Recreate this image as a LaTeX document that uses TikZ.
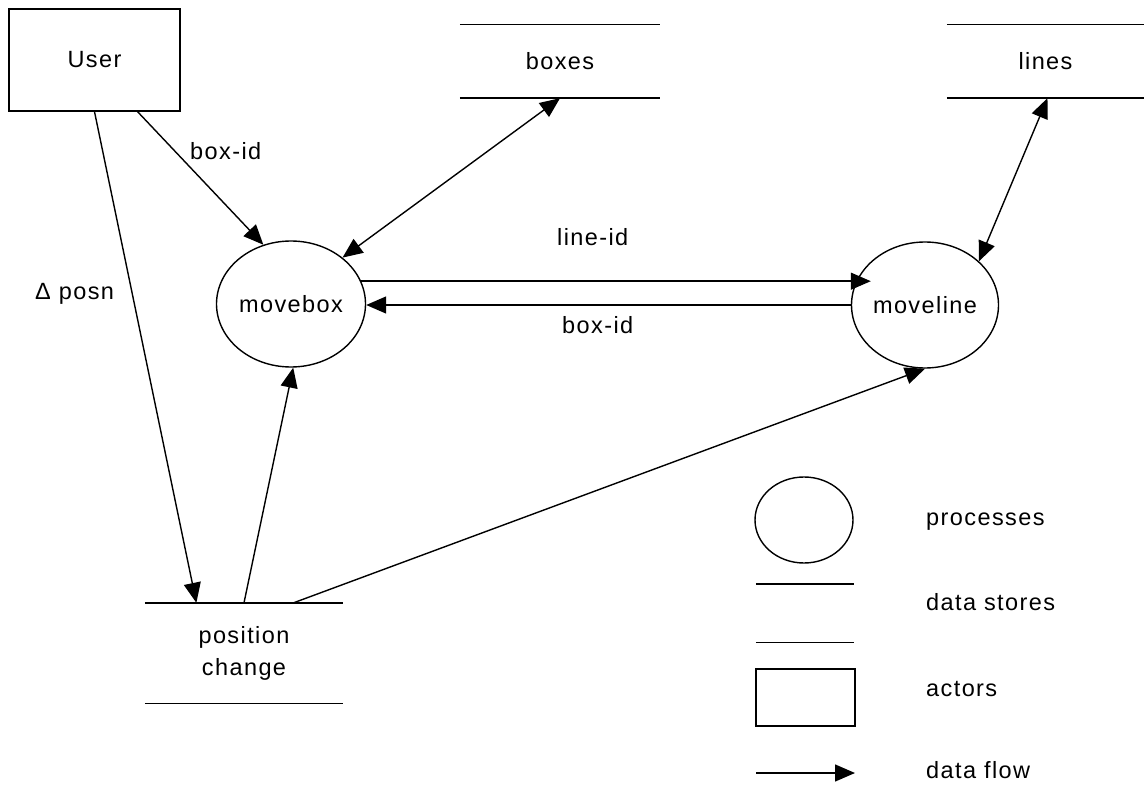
\documentclass[tikz,border=0pt]{standalone}
\usepackage{fontspec}
\setmainfont{Liberation Sans}[LetterSpace=6]
\usetikzlibrary{arrows.meta,shapes.geometric,calc}
\begin{document}
\begin{tikzpicture}[x=1pt,y=-1pt,
  ln/.style={line width=1.4pt},
  every node/.style={font=\fontsize{23.5}{32}\selectfont, inner sep=0pt},
  actor/.style={draw, ln, rectangle},
  proc/.style={draw, ln, ellipse},
  store/.style={rectangle, align=center},
  lbl/.style={anchor=base west},
  tip/.style={Triangle[length=20pt,width=17pt]},
  flow/.style={ln, -{Triangle[length=20pt,width=17pt]}},
  both/.style={ln, {Triangle[length=20pt,width=17pt]}-{Triangle[length=20pt,width=17pt]}}
]
\useasboundingbox (0,0) rectangle (1144,786);

% actors, processes and data stores
\node[actor, minimum width=171pt, minimum height=102pt] (user) at (94.5,60) {User};
\node[proc, minimum width=149pt, minimum height=126pt] (movebox) at (291,304) {movebox};
\node[proc, minimum width=147pt, minimum height=126pt] (moveline) at (925,305) {moveline};
\node[store, minimum width=200pt, minimum height=73pt] (boxes) at (560,61.5) {boxes};
\node[store, minimum width=197pt, minimum height=73pt] (lines) at (1045.5,61.5) {lines};
\node[store, minimum width=198pt, minimum height=100pt] (pos) at (244,653) {position\\change};

% data store bars
\foreach \s in {boxes,lines,pos}{
  \draw[ln] (\s.north west) -- (\s.north east);
  \draw[ln] (\s.south west) -- (\s.south east);
}

% data flows
\draw[flow] ($(user.south west)!0.75!(user.south east)$) -- (movebox.115);
\draw[flow] (user.south) -- ($(pos.north west)!0.26!(pos.north east)$);
\draw[both] (boxes.south) -- (movebox.42);
\draw[both] ($(lines.south west)!0.51!(lines.south east)$) -- (moveline.39);
\draw[flow, shorten >=-20pt] (movebox.18) -- (movebox.18 -| moveline.west);
\draw[flow] (moveline.west) -- (moveline.west -| movebox.east);
\draw[flow] (pos.north) -- (movebox.272);
\draw[flow] ($(pos.north west)!0.75!(pos.north east)$) -- (moveline.south);

% flow labels
\node[lbl] (lboxid) at (190,160) {box-id};
\node[lbl] (ldelta) at (35,300) {Δ posn};
\node[lbl] (llineid) at (557,246) {line-id};
\node[lbl] (lboxid2) at (562,334) {box-id};

% legend
\node[proc, minimum width=98pt, minimum height=86pt] (kproc) at (804,520) {};
\node[store, minimum width=98pt, minimum height=58pt] (kstore) at (805,613) {};
\draw[ln] (kstore.north west) -- (kstore.north east);
\draw[ln] (kstore.south west) -- (kstore.south east);
\node[actor, minimum width=99pt, minimum height=57pt] (kactor) at (805.5,697.5) {};
\coordinate (kfa) at (756,773);
\coordinate (kfb) at (855,773);
\draw[flow] (kfa) -- (kfb);
\node[lbl] (tproc) at (926,525) {processes};
\node[lbl] (tstore) at (926,610) {data stores};
\node[lbl] (tactor) at (926,696) {actors};
\node[lbl] (tflow) at (926,778) {data flow};
\end{tikzpicture}
\end{document}
